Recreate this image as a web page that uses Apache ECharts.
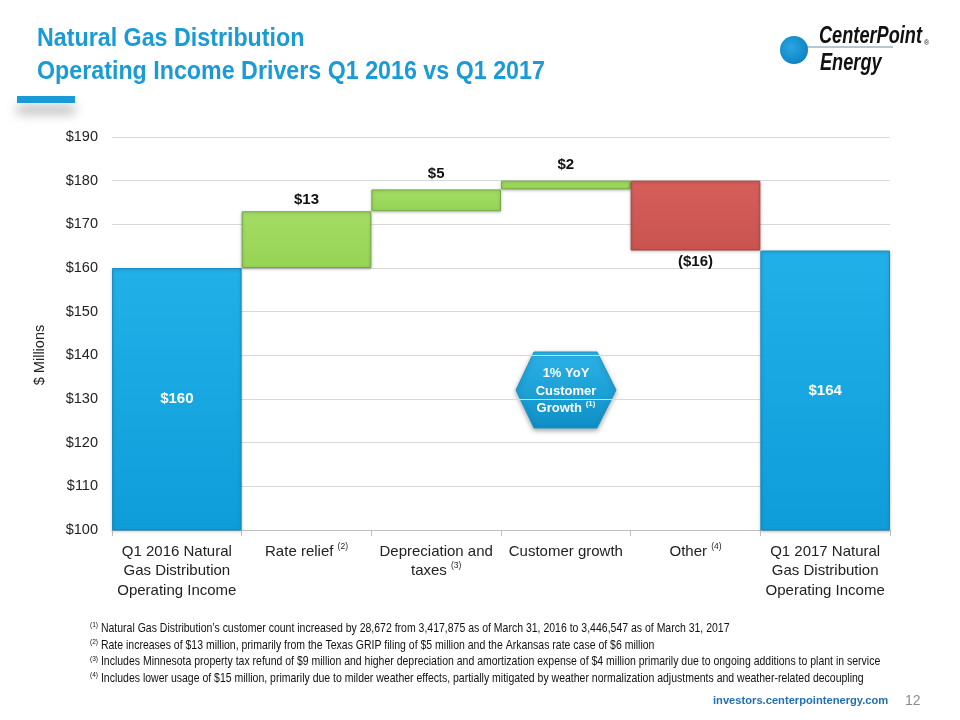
<!DOCTYPE html>
<html>
<head>
<meta charset="utf-8">
<script src="https://cdn.jsdelivr.net/npm/echarts@6/dist/echarts.min.js"></script>
<style>html,body{margin:0;padding:0;background:#fff;}#c{width:960px;height:720px;}</style>
</head>
<body>
<div id="c"></div>
<script>
const categories = ['Q1 2016 Natural\nGas Distribution\nOperating Income', 'Rate relief {sup|(2)}', 'Depreciation and\ntaxes {sup|(3)}', 'Customer growth', 'Other {sup|(4)}', 'Q1 2017 Natural\nGas Distribution\nOperating Income'];
const startValue = 160;
const changes = [13, 5, 2, -16];
const endValue = 164;
const valueLabels = ['$160', '$13', '$5', '$2', '($16)', '$164'];
const yTicks = [100, 110, 120, 130, 140, 150, 160, 170, 180, 190];

const F = '"Liberation Sans", Arial, sans-serif';
const blue = {type:'linear',x:0,y:0,x2:0,y2:1,colorStops:[{offset:0,color:'#22b0e8'},{offset:1,color:'#0e9dd9'}]};
const green = {type:'linear',x:0,y:0,x2:0,y2:1,colorStops:[{offset:0,color:'#a4dd66'},{offset:1,color:'#96d454'}]};
const red = {type:'linear',x:0,y:0,x2:0,y2:1,colorStops:[{offset:0,color:'#d65e5b'},{offset:1,color:'#c95450'}]};
const labelGap = [0, 4, 8, 8, 4, 0];

// build waterfall base + visible part
const base = [0];
const vis = [startValue];
let run = startValue;
changes.forEach(c => {
  if (c >= 0) { base.push(run); vis.push(c); }
  else { base.push(run + c); vis.push(-c); }
  run += c;
});
base.push(0); vis.push(endValue);

const visData = vis.map((v, i) => {
  let color, border, labelPos;
  if (i === 0 || i === vis.length - 1) { color = blue; border = '#1a8cbf'; labelPos = 'inside'; }
  else if (changes[i-1] >= 0) { color = green; border = '#77a846'; labelPos = 'top'; }
  else { color = red; border = '#a9423f'; labelPos = 'bottom'; }
  return {
    value: v,
    itemStyle: {color: color, borderColor: border, borderWidth: 1, shadowColor:'rgba(0,0,0,0.25)', shadowBlur:3, shadowOffsetY:1},
    label: {show: true, position: labelPos, distance: labelGap[i], formatter: valueLabels[i],
      color: labelPos === 'inside' ? '#fff' : '#111', fontFamily: F, fontWeight: 'bold', fontSize: 15}
  };
});

function fn(num, text, y) {
  return {type:'text', x: 90, y: y, scaleX: 0.82, style:{text:'{s|(' + num + ')} ' + text, fill:'#111', font:'12.8px ' + F, verticalAlign:'middle',
    rich:{s:{fontSize:8, verticalAlign:'top', fontFamily:F, padding:[0,0,6,0]}}}};
}

const chart = echarts.init(document.getElementById('c'));
chart.setOption({
  backgroundColor: '#fff',
  animation: false,
  grid: {left: 112, right: 70, top: 137, bottom: 190},
  xAxis: {
    type: 'category', data: categories,
    axisLine: {lineStyle: {color: '#bfbfbf', width: 1}},
    axisTick: {show: true, length: 6, lineStyle: {color:'#bfbfbf'}},
    axisLabel: {interval: 0, color: '#222', fontFamily: F, fontSize: 15, lineHeight: 19.5, margin: 12,
      rich: {sup: {fontSize: 8.5, verticalAlign:'top', fontFamily:F, color:'#222', padding:[0,0,8,0]}}}
  },
  yAxis: {
    type: 'value', min: 100, max: 190, interval: 10,
    axisLine: {show: false}, axisTick: {show: false},
    splitLine: {lineStyle: {color: '#d9d9d9'}},
    axisLabel: {color: '#222', fontFamily: F, fontSize: 14.5, margin: 14, formatter: v => yTicks.includes(v) ? '$' + v : ''}
  },
  series: [
    {type:'bar', stack:'w', data: base, itemStyle:{color:'transparent'}, barCategoryGap: '0%', silent: true},
    {type:'bar', stack:'w', data: visData, barCategoryGap: '0%'}
  ],
  graphic: [
    {type:'text', x: 37, y: 39, scaleX: 0.93, style:{text:'Natural Gas Distribution', fill:'#1a9ad6', font:'bold 25px ' + F, verticalAlign:'middle'}},
    {type:'text', x: 37, y: 72, scaleX: 0.93, style:{text:'Operating Income Drivers Q1 2016 vs Q1 2017', fill:'#1a9ad6', font:'bold 25px ' + F, verticalAlign:'middle'}},
    {type:'rect', shape:{x:17, y:96, width:58, height:7}, style:{fill:'#1a9ad6', shadowColor:'rgba(0,0,0,0.35)', shadowBlur:12, shadowOffsetY:10}},
    {type:'text', x: 40, y: 355, rotation: Math.PI/2, style:{text:'$ Millions', fill:'#222', font:'14.5px ' + F, align:'center', verticalAlign:'middle'}},
    // logo
    {type:'line', shape:{x1:795, y1:47, x2:893, y2:47}, style:{stroke:'#6d8fb0', lineWidth:1.2}},
    {type:'circle', shape:{cx:794, cy:50, r:14}, style:{fill:{type:'radial',x:0.4,y:0.4,r:0.7,colorStops:[{offset:0,color:'#2aa6e2'},{offset:1,color:'#0a7fc0'}]}}},
    {type:'text', x: 819, y: 37, scaleX: 0.79, style:{text:'CenterPoint', fill:'#111', font:'italic bold 23px ' + F, verticalAlign:'middle'}},
    {type:'text', x: 924, y: 40, style:{text:'®', fill:'#111', font:'7px sans-serif'}},
    {type:'text', x: 820, y: 64, scaleX: 0.79, style:{text:'Energy', fill:'#111', font:'italic bold 23px ' + F, verticalAlign:'middle'}},
    // hexagon
    {type:'polygon', shape:{points:[[516,390],[534,352],[597,352],[616,390],[597,428],[534,428]]},
      style:{fill:{type:'linear',x:0,y:0,x2:0,y2:1,colorStops:[{offset:0,color:'#2bb3e8'},{offset:1,color:'#0f8fc6'}]}, stroke:'#1a94c8', lineWidth:1, shadowColor:'rgba(0,0,0,0.35)', shadowBlur:5, shadowOffsetY:2}},
    {type:'text', x: 566, y: 391, style:{text:'1% YoY\nCustomer\nGrowth {s|(1)}', fill:'#fff', font:'bold 13px ' + F, align:'center', verticalAlign:'middle', lineHeight:17.5,
      rich:{s:{fontSize:8, fontWeight:'bold', fill:'#fff', color:'#fff', verticalAlign:'top', fontFamily:F, padding:[0,0,6,0]}}}},
    fn(1, 'Natural Gas Distribution\u2019s customer count increased by 28,672 from 3,417,875 as of March 31, 2016 to 3,446,547 as of March 31, 2017', 628),
    fn(2, 'Rate increases of $13 million, primarily from the Texas GRIP filing of $5 million and the Arkansas rate case of $6 million', 645),
    fn(3, 'Includes Minnesota property tax refund of $9 million and higher depreciation and amortization expense of $4 million primarily due to ongoing additions to plant in service', 661.5),
    fn(4, 'Includes lower usage of $15 million, primarily due to milder weather effects, partially mitigated by weather normalization adjustments and weather-related decoupling', 678),
    {type:'text', x: 713, y: 701, scaleX: 0.97, style:{text:'investors.centerpointenergy.com', fill:'#1f6fb5', font:'bold 11.5px ' + F, verticalAlign:'middle'}},
    {type:'text', x: 905, y: 701, style:{text:'12', fill:'#8c8c8c', font:'14px ' + F, verticalAlign:'middle'}}
  ]
});
</script>
</body>
</html>
